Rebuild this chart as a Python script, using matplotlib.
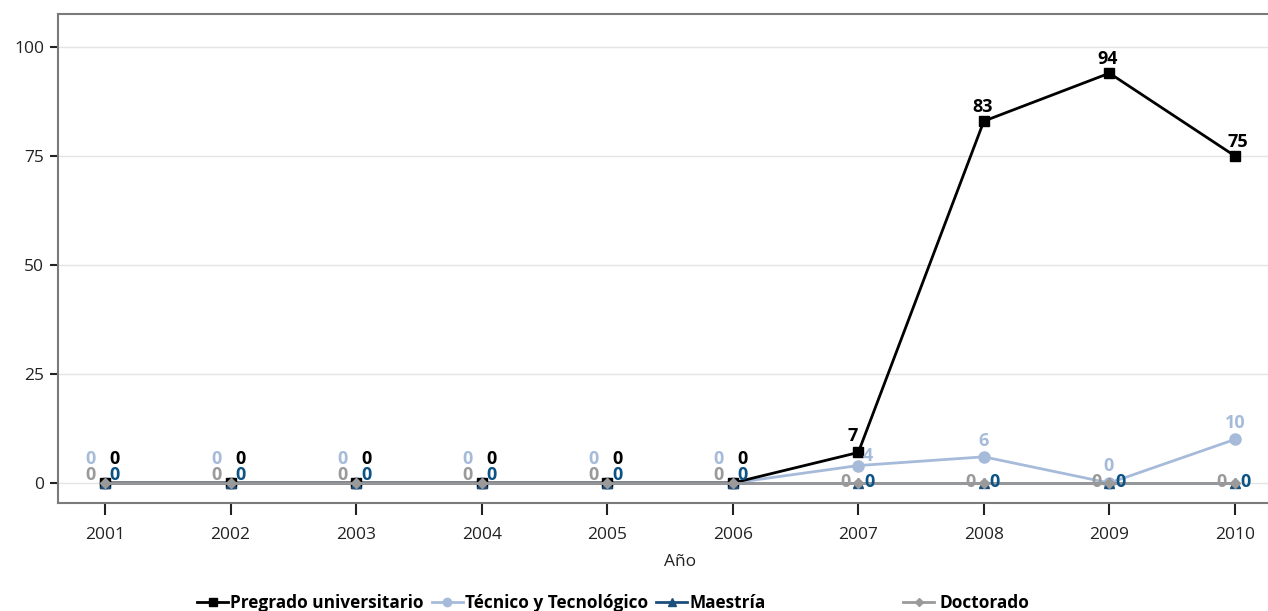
import numpy as np
import matplotlib
matplotlib.use("Agg")
import matplotlib.pyplot as plt
from matplotlib.lines import Line2D

plt.rcParams['font.family'] = ['Open Sans', 'DejaVu Sans']

years = [2001, 2002, 2003, 2004, 2005, 2006, 2007, 2008, 2009, 2010]
pregrado = [0, 0, 0, 0, 0, 0, 7, 83, 94, 75]
tecnico = [0, 0, 0, 0, 0, 0, 4, 6, 0, 10]
maestria = [0, 0, 0, 0, 0, 0, 0, 0, 0, 0]
doctorado = [0, 0, 0, 0, 0, 0, 0, 0, 0, 0]
series_names = ['Pregrado universitario', 'Técnico y Tecnológico', 'Maestría', 'Doctorado']
y_ticks = [0, 25, 50, 75, 100]

c_pre = '#000000'
c_tec = '#a6bbda'
c_mae = '#1d4f7c'
c_mae_txt = '#0b5285'
c_doc = '#9a9a9a'

W, H = 1268, 611
fig = plt.figure(figsize=(W / 100, H / 100), dpi=100)
ax = fig.add_axes([58 / W, 1 - 503 / H, 1 - 58 / W, (503 - 14) / H])

ax.plot(years, tecnico, color=c_tec, lw=2.0, marker='o', ms=8, zorder=3)
ax.plot(years, pregrado, color=c_pre, lw=2.0, marker='s', ms=7, zorder=4)
ax.plot(years, maestria, color=c_mae, lw=1.8, marker='^', ms=7, zorder=5)
ax.plot(years, doctorado, color=c_doc, lw=2.0, marker='D', ms=5, zorder=6)

# data labels (offsets in pixels)
def lab(vals, color, offs):
    for x, v, (dx, dy) in zip(years, vals, offs):
        ax.annotate(str(v), (x, v), xytext=(dx, dy), textcoords='offset pixels',
                    ha='center', va='center', color=color, fontsize=13,
                    fontweight='bold', zorder=10)

pre_offs = [(10, 24)] * 6 + [(-6, 16), (-1, 14), (-2, 14), (3, 14)]
tec_offs = [(-14, 24)] * 6 + [(10, 10), (0, 16), (-1, 17), (0, 16)]
mae_offs = [(10, 8)] * 6 + [(11, 1)] * 4
doc_offs = [(-14, 8)] * 6 + [(-13, 1)] * 4
lab(pregrado, c_pre, pre_offs)
lab(tecnico, c_tec, tec_offs)
lab(maestria, c_mae_txt, mae_offs)
lab(doctorado, c_doc, doc_offs)

ax.set_xlim(2000.626, 2010.263)
ax.set_ylim(-4.59, 107.57)
ax.set_xticks(years)
ax.set_yticks(y_ticks)
ax.tick_params(axis='both', labelsize=12.5, colors='#222222', width=1.5)
ax.tick_params(axis='x', length=8.5, pad=9)
ax.tick_params(axis='y', length=6, pad=4)
ax.grid(axis='y', color='#e4e4e4', lw=1)
ax.set_axisbelow(True)
for s in ['top', 'left', 'bottom']:
    ax.spines[s].set_color('#7a7a7a')
    ax.spines[s].set_linewidth(1.5)
ax.spines['right'].set_visible(False)

fig.text(680 / W, 1 - 562 / H, 'Año', ha='center', va='center', fontsize=12.5, color='#222222')

handles = [
    Line2D([], [], color=c_pre, lw=2, marker='s', ms=6),
    Line2D([], [], color=c_tec, lw=2, marker='o', ms=6),
    Line2D([], [], color=c_mae, lw=2, marker='^', ms=6),
]
fig.legend(handles, series_names[:3], loc='center left',
           bbox_to_anchor=(197 / W, 1 - 603 / H), ncol=3, frameon=False,
           handlelength=1.8, handletextpad=0.1, columnspacing=0.5,
           prop={'weight': 'bold', 'size': 12.4}, borderaxespad=0, borderpad=0)
h4 = [Line2D([], [], color=c_doc, lw=2, marker='D', ms=4)]
fig.legend(h4, series_names[3:], loc='center left',
           bbox_to_anchor=(903 / W, 1 - 603 / H), frameon=False,
           handlelength=1.8, handletextpad=0.3,
           prop={'weight': 'bold', 'size': 12.4}, borderaxespad=0, borderpad=0)

fig.savefig('out.png', dpi=100)
